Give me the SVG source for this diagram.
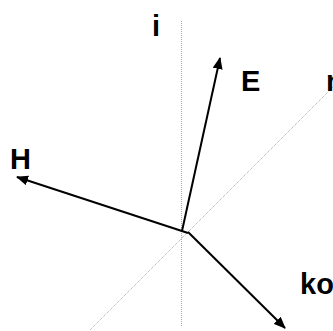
<svg xmlns="http://www.w3.org/2000/svg" width="333" height="331" viewBox="0 0 333 331">
<defs>
<style>
.axis{stroke:#a8a8a8;stroke-width:1;stroke-dasharray:1 1;fill:none}
.vec{stroke:#000;stroke-width:2;fill:none;marker-end:url(#ah)}
.lbl{font-family:"Liberation Sans",Arial,sans-serif;font-weight:bold;font-size:29px;fill:#000}
</style>
<marker id="ah" viewBox="0 0 12 10" refX="11" refY="5" markerWidth="12" markerHeight="10" markerUnits="userSpaceOnUse" orient="auto">
<path d="M0,0 L12,5 L0,10 Z" fill="#000"/>
</marker>
</defs>
<rect width="333" height="331" fill="#fff"/>
<g id="axes">
<line class="axis" x1="181.5" y1="21" x2="181.5" y2="326"/>
<line class="axis" x1="90" y1="330" x2="334" y2="86"/>
</g>
<g id="connectors">
<line class="vec" x1="182" y1="231" x2="220" y2="58"/>
<line class="vec" x1="188" y1="233" x2="17" y2="177"/>
<line class="vec" x1="188" y1="232" x2="285" y2="328"/>
</g>
<g id="label-i"><text class="lbl" x="152" y="36">i</text></g>
<g id="label-E"><text class="lbl" x="241" y="91">E</text></g>
<g id="label-n"><text class="lbl" x="326" y="91">n</text></g>
<g id="label-H"><text class="lbl" x="10" y="169">H</text></g>
<g id="label-ko"><text class="lbl" x="300" y="294">ko</text></g>
</svg>
